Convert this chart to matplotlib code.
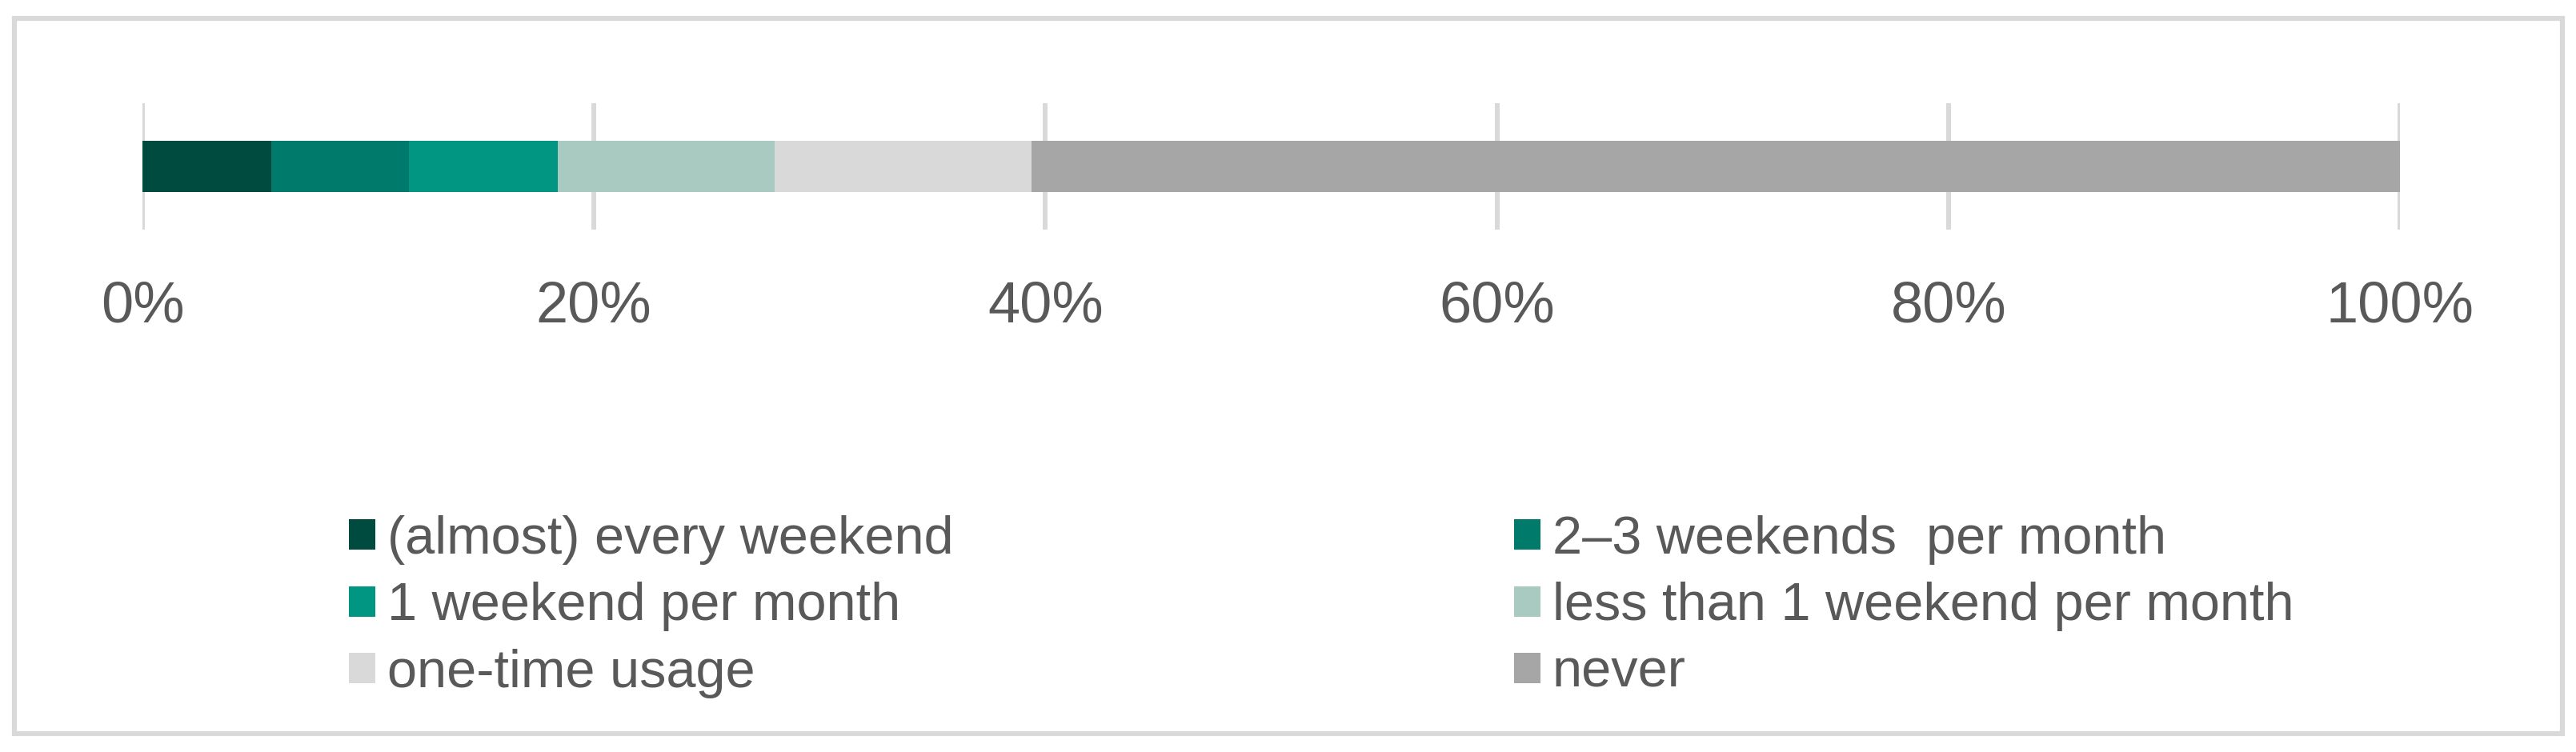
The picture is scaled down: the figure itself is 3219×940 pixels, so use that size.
import matplotlib
matplotlib.use('Agg')
import matplotlib.pyplot as plt
from matplotlib.patches import Patch, Rectangle

plt.rcParams['font.family'] = ['Liberation Sans', 'DejaVu Sans']

# data
categories = ['(almost) every weekend', '2–3 weekends  per month', '1 weekend per month',
              'less than 1 weekend per month', 'one-time usage', 'never']
shares = [5.7, 6.1, 6.6, 9.6, 11.4, 60.6]
colors = ['#004B40', '#007A6A', '#009681', '#A9CAC1', '#D9D9D9', '#A6A6A6']
ticks = [0, 20, 40, 60, 80, 100]
tick_labels = ['0%', '20%', '40%', '60%', '80%', '100%']

W, H = 3219, 940
fig = plt.figure(figsize=(W / 100, H / 100), dpi=100)
ax = fig.add_axes([178 / W, (H - 287) / H, (2999 - 178) / W, (287 - 129) / H])

left = 0
for cat, val, col in zip(categories, shares, colors):
    ax.barh(0, val, left=left, height=0.4, color=col, label=cat, zorder=3)
    left += val

ax.set_xlim(0, 100)
ax.set_ylim(-0.5, 0.5)
ax.set_yticks([])
ax.set_xticks(ticks)
ax.set_xticklabels(tick_labels, fontsize=52, color='#595959')
ax.tick_params(axis='x', length=0, pad=46)
ax.grid(axis='x', color='#D9D9D9', linewidth=4.3, zorder=0)
for s in ax.spines.values():
    s.set_visible(False)

# legend, filled column-wise so rows read left to right
order = [0, 2, 4, 1, 3, 5]
handles = [Patch(facecolor=colors[i], edgecolor='none') for i in order]
labels = [categories[i] for i in order]
fig.legend(handles, labels, ncol=2, loc='upper left',
           bbox_to_anchor=(436 / W, (H - 644) / H), frameon=False,
           fontsize=48, labelcolor='#595959', handlelength=0.5, handleheight=0.5,
           handletextpad=0.22, columnspacing=10.5, labelspacing=0.32,
           borderpad=0, borderaxespad=0)

# outer frame
fig.patches.append(Rectangle((18 / W, (H - 917) / H), (3202 - 18) / W, (917 - 23) / H,
                             transform=fig.transFigure, fill=False,
                             edgecolor='#D9D9D9', linewidth=4.5))

fig.savefig('out.png', dpi=100, facecolor='white')
